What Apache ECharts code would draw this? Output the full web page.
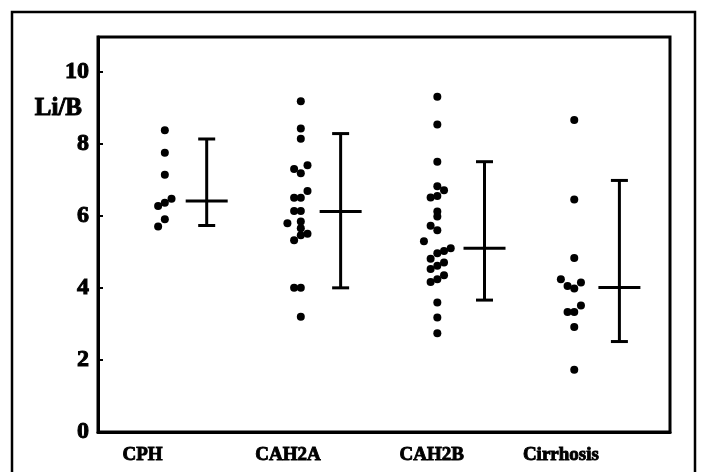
<!DOCTYPE html>
<html>
<head>
<meta charset="utf-8">
<script src="https://cdn.jsdelivr.net/npm/echarts@6/dist/echarts.min.js"></script>
<style>
html,body{margin:0;padding:0;background:#fff;}
#chart{width:702px;height:472px;}
</style>
</head>
<body>
<div id="chart"></div>
<script>
// ---- data ----
const categories = ['CPH', 'CAH2A', 'CAH2B', 'Cirrhosis'];
const yTicks = [0, 2, 4, 6, 8, 10];

const cphValues = [8.37, 7.75, 7.14, 6.47, 6.36, 6.27, 5.90, 5.70];
const cphSlots  = [0, 0, 0, 1, 0, -1, 0, -1];

const cah2aValues = [9.18, 8.42, 8.14, 7.40, 7.30, 7.18, 6.69, 6.50, 6.50, 6.13, 6.13, 5.84, 5.79, 5.65, 5.50, 5.46, 5.32, 4.00, 4.00, 3.20];
const cah2aSlots  = [0, 0, 0, 1, -1, 0, 1, -1, 0, -1, 0, 0, -2, 0, 1, 0, -1, -1, 0, 0];

const cah2bValues = [9.30, 8.53, 7.50, 6.82, 6.71, 6.55, 6.51, 6.12, 5.98, 5.72, 5.60, 5.29, 5.10, 5.02, 4.96, 4.81, 4.70, 4.61, 4.52, 4.35, 4.24, 4.16, 3.59, 3.18, 2.74];
const cah2bSlots  = [0, 0, 0, 0, 1, 0, -1, 0, 0, -1, 0, -2, 2, 1, 0, -1, 1, 0, -1, 1, 0, -1, 0, 0, 0];

const cirrValues = [8.66, 6.45, 4.83, 4.24, 4.15, 4.05, 3.98, 3.51, 3.33, 3.33, 2.91, 1.73];
const cirrSlots  = [0, 0, 0, -2, 1, -1, 0, 1, -1, 0, 0, 0];

const means = [6.41, 6.12, 5.10, 4.01];
const lows  = [5.73, 4.00, 3.66, 2.51];
const highs = [8.13, 8.28, 7.50, 6.98];

// ---- layout (axis units along x) ----
const dotCol = [0.49, 1.487, 2.488, 3.492];
const barCol = [0.797, 1.779, 2.834, 3.823];
const labelPos = [0.326, 1.393, 2.447, 3.394];
const slotStep = 0.0491;
const xMax = 4.194;

const groups = [
  [cphValues, cphSlots],
  [cah2aValues, cah2aSlots],
  [cah2bValues, cah2bSlots],
  [cirrValues, cirrSlots]
];

const scatterData = [];
groups.forEach(function (g, i) {
  g[0].forEach(function (v, j) {
    scatterData.push([dotCol[i] + g[1][j] * slotStep, v]);
  });
});

const barData = categories.map(function (c, i) {
  return [barCol[i], lows[i], highs[i], means[i]];
});

const serif = 'Liberation Serif, Times New Roman, serif';

const chart = echarts.init(document.getElementById('chart'), null, {renderer: 'canvas'});
chart.setOption({
  backgroundColor: '#fff',
  animation: false,
  grid: {
    left: 98, top: 37, right: 32, bottom: 40,
    show: true, borderColor: '#000', borderWidth: 3, backgroundColor: 'transparent'
  },
  xAxis: {
    type: 'value', min: 0, max: xMax,
    axisLine: {show: true, lineStyle: {color: '#000', width: 3}},
    axisTick: {show: false},
    splitLine: {show: false},
    axisLabel: {
      customValues: labelPos,
      margin: 14,
      color: '#000',
      fontFamily: serif,
      fontWeight: 'bold',
      fontSize: 19,
      textBorderColor: '#000',
      textBorderWidth: 0.9,
      formatter: function (v) {
        let best = 0, d = 1e9;
        labelPos.forEach(function (p, i) { if (Math.abs(p - v) < d) { d = Math.abs(p - v); best = i; } });
        return categories[best];
      }
    }
  },
  yAxis: {
    type: 'value', min: 0, max: 10.96,
    axisLine: {show: true, lineStyle: {color: '#000', width: 3}},
    axisTick: {show: true, inside: true, length: 5, customValues: yTicks, lineStyle: {color: '#000', width: 2}},
    splitLine: {show: false},
    axisLabel: {
      customValues: yTicks,
      margin: 9,
      color: '#000',
      fontFamily: serif,
      fontWeight: 'bold',
      fontSize: 24,
      textBorderColor: '#000',
      textBorderWidth: 1,
      padding: [16, 0, 0, 0]
    }
  },
  graphic: [
    {
      type: 'rect',
      shape: {x: 12, y: 12, width: 683, height: 480},
      style: {fill: 'none', stroke: '#000', lineWidth: 2.5},
      silent: true
    },
    {
      type: 'text',
      x: 82, y: 109,
      style: {
        text: 'Li/B',
        fill: '#000',
        stroke: '#000',
        lineWidth: 1,
        font: 'bold 25px ' + serif,
        textAlign: 'right',
        textVerticalAlign: 'middle'
      },
      silent: true
    }
  ],
  series: [
    {
      type: 'scatter',
      data: scatterData,
      symbol: 'circle',
      symbolSize: 8,
      itemStyle: {color: '#000', opacity: 1},
      silent: true
    },
    {
      type: 'custom',
      data: barData,
      encode: {x: 0, y: [1, 2, 3]},
      silent: true,
      renderItem: function (params, api) {
        const x = api.value(0);
        const pLow = api.coord([x, api.value(1)]);
        const pHigh = api.coord([x, api.value(2)]);
        const pMean = api.coord([x, api.value(3)]);
        const cap = 8.5, half = 21;
        const st = {stroke: '#000', lineWidth: 3};
        return {
          type: 'group',
          children: [
            {type: 'line', shape: {x1: pLow[0], y1: pLow[1], x2: pHigh[0], y2: pHigh[1]}, style: st},
            {type: 'line', shape: {x1: pHigh[0] - cap, y1: pHigh[1], x2: pHigh[0] + cap, y2: pHigh[1]}, style: st},
            {type: 'line', shape: {x1: pLow[0] - cap, y1: pLow[1], x2: pLow[0] + cap, y2: pLow[1]}, style: st},
            {type: 'line', shape: {x1: pMean[0] - half, y1: pMean[1], x2: pMean[0] + half, y2: pMean[1]}, style: st}
          ]
        };
      }
    }
  ]
});
</script>
</body>
</html>
